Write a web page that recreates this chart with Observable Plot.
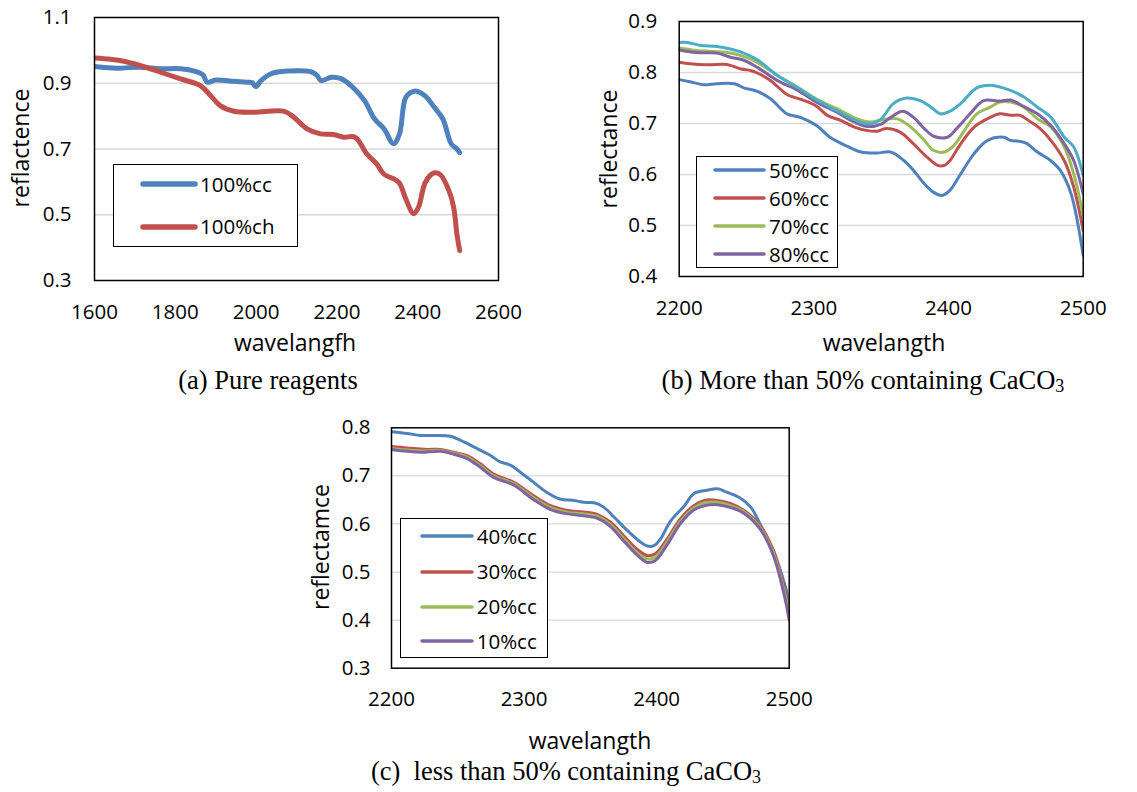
<!DOCTYPE html>
<html><head><meta charset="utf-8">
<script src="https://cdn.jsdelivr.net/npm/d3@7"></script>
<script src="https://cdn.jsdelivr.net/npm/@observablehq/plot@0.6"></script>
<style>
body{margin:0;background:#fff;width:1137px;height:792px;position:relative;overflow:hidden;font-family:"Open Sans",sans-serif;color:#000}
.wrap{position:absolute}
.ylab{position:absolute;transform:translate(-50%,-50%) rotate(-90deg);font-size:23px;white-space:nowrap;line-height:1}
.xlab{position:absolute;transform:translate(-50%,-50%);font-size:23px;white-space:nowrap;line-height:1}
.cap{position:absolute;transform:translate(-50%,-50%);font-family:"Liberation Serif","Times New Roman",serif;font-size:26.5px;white-space:nowrap;line-height:1}
.cap sub{font-size:0.68em;vertical-align:-0.12em}
.legend{position:absolute;border:1.5px solid #000;background:#fff;box-sizing:border-box}
.lrow{position:absolute;display:flex;align-items:center;font-size:20.5px;white-space:nowrap;line-height:1}
</style>
</head><body>
<script>
// ---------- Panel (a) Pure reagents ----------
const aNames = ["100%cc", "100%ch"];
const aColors = ["#4F81BD", "#C0504D"];
const aXTicks = [1600, 1800, 2000, 2200, 2400, 2600];
const aYTicks = [0.3, 0.5, 0.7, 0.9, 1.1];
const a_cc_wl = [1600,1656,1712,1763,1813,1850,1868,1879,1900,1945,1978,1990,1999,2012,2037,2078,2136,2150,2161,2186,2210,2235,2268,2293,2317,2340,2355,2371,2392,2417,2441,2462,2483,2497,2504];
const a_cc_r  = [0.951,0.946,0.949,0.944,0.944,0.936,0.926,0.903,0.910,0.906,0.903,0.902,0.890,0.908,0.929,0.937,0.935,0.925,0.908,0.918,0.914,0.893,0.848,0.792,0.761,0.716,0.746,0.858,0.876,0.863,0.827,0.792,0.716,0.700,0.689];
const a_ch_wl = [1600,1640,1673,1713,1763,1813,1862,1887,1911,1945,1994,2068,2093,2126,2159,2192,2217,2245,2274,2299,2316,2353,2369,2390,2402,2419,2440,2456,2477,2489,2497,2504];
const a_ch_r  = [0.977,0.973,0.967,0.954,0.934,0.913,0.893,0.863,0.832,0.815,0.812,0.815,0.797,0.761,0.746,0.744,0.736,0.736,0.685,0.654,0.624,0.599,0.553,0.503,0.523,0.599,0.627,0.622,0.574,0.523,0.442,0.391];

// ---------- Panel (b) More than 50% CaCO3 ----------
const bNames = ["50%cc", "60%cc", "70%cc", "80%cc", "90%cc"];
const bColors = ["#4F81BD", "#C0504D", "#9BBB59", "#8064A2", "#4BACC6"];
const bLegendNames = ["50%cc", "60%cc", "70%cc", "80%cc"];
const bXTicks = [2200, 2300, 2400, 2500];
const bYTicks = [0.4, 0.5, 0.6, 0.7, 0.8, 0.9];
const b50_wl = [2200,2208,2218,2228,2241,2248,2258,2268,2280,2290,2302,2312,2325,2335,2347,2357,2367,2374,2382,2389,2395,2401,2409,2419,2429,2441,2446,2453,2458,2466,2476,2483,2491,2500];
const b50_r  = [0.786,0.782,0.776,0.778,0.778,0.770,0.763,0.748,0.719,0.712,0.696,0.673,0.655,0.644,0.642,0.644,0.627,0.608,0.582,0.565,0.559,0.569,0.601,0.641,0.667,0.673,0.667,0.665,0.661,0.644,0.627,0.608,0.562,0.441];
const b60_wl = [2200,2208,2221,2233,2238,2246,2253,2258,2268,2280,2293,2302,2310,2320,2330,2340,2347,2354,2364,2374,2384,2392,2397,2401,2409,2419,2431,2438,2446,2453,2461,2468,2476,2486,2493,2500];
const b60_r  = [0.820,0.817,0.815,0.816,0.814,0.807,0.804,0.799,0.784,0.757,0.745,0.734,0.716,0.706,0.693,0.686,0.685,0.690,0.683,0.660,0.634,0.618,0.618,0.627,0.660,0.693,0.712,0.719,0.716,0.716,0.703,0.690,0.667,0.627,0.575,0.490];
const b70_wl = [2200,2213,2233,2246,2258,2273,2288,2302,2317,2332,2342,2352,2362,2372,2382,2389,2397,2404,2411,2421,2431,2438,2446,2456,2466,2476,2486,2493,2500];
const b70_r  = [0.848,0.843,0.840,0.833,0.820,0.794,0.771,0.748,0.729,0.709,0.703,0.708,0.709,0.693,0.667,0.647,0.644,0.657,0.683,0.719,0.732,0.742,0.742,0.732,0.709,0.693,0.654,0.601,0.520];
const b80_wl = [2200,2213,2228,2238,2248,2258,2273,2288,2302,2317,2330,2340,2350,2357,2366,2374,2382,2389,2399,2406,2416,2426,2438,2446,2456,2466,2476,2486,2493,2500];
const b80_r  = [0.844,0.839,0.838,0.830,0.824,0.810,0.784,0.765,0.742,0.722,0.703,0.694,0.699,0.712,0.724,0.712,0.690,0.675,0.673,0.690,0.719,0.745,0.744,0.746,0.733,0.719,0.696,0.660,0.627,0.562];
const b90_wl = [2200,2206,2216,2228,2238,2248,2258,2273,2288,2302,2317,2332,2342,2350,2359,2369,2379,2387,2394,2401,2409,2421,2431,2436,2446,2456,2466,2476,2486,2493,2500];
const b90_r  = [0.859,0.859,0.853,0.851,0.846,0.838,0.825,0.794,0.770,0.746,0.725,0.705,0.699,0.709,0.739,0.750,0.745,0.732,0.719,0.724,0.739,0.770,0.775,0.773,0.765,0.752,0.732,0.712,0.673,0.654,0.598];

// ---------- Panel (c) less than 50% CaCO3 ----------
const cNames = ["40%cc", "30%cc", "20%cc", "10%cc"];
const cColors = ["#4F81BD", "#C0504D", "#9BBB59", "#8064A2"];
const cXTicks = [2200, 2300, 2400, 2500];
const cYTicks = [0.3, 0.4, 0.5, 0.6, 0.7, 0.8];
const c40_wl = [2200,2212,2222,2232,2245,2255,2265,2275,2282,2290,2297,2307,2317,2327,2338,2345,2353,2360,2368,2378,2388,2393,2398,2403,2410,2421,2428,2438,2446,2453,2463,2471,2478,2488,2495,2500];
const c40_r  = [0.792,0.788,0.784,0.784,0.782,0.770,0.756,0.742,0.729,0.722,0.708,0.687,0.666,0.652,0.649,0.645,0.644,0.635,0.614,0.586,0.562,0.554,0.555,0.569,0.604,0.638,0.663,0.670,0.673,0.666,0.654,0.635,0.600,0.545,0.489,0.441];
const c30_wl = [2200,2212,2227,2237,2247,2257,2267,2277,2292,2307,2320,2333,2345,2355,2365,2375,2385,2393,2399,2408,2418,2428,2436,2446,2456,2466,2478,2488,2496,2500];
const c30_r  = [0.761,0.758,0.755,0.755,0.749,0.742,0.725,0.704,0.687,0.659,0.638,0.628,0.625,0.620,0.604,0.576,0.548,0.534,0.538,0.569,0.611,0.638,0.649,0.649,0.642,0.628,0.597,0.545,0.469,0.420];
const c20_wl = [2200,2212,2227,2237,2247,2257,2267,2277,2292,2307,2320,2333,2345,2355,2365,2375,2385,2393,2399,2408,2418,2428,2436,2446,2456,2466,2478,2488,2496,2500];
const c20_r  = [0.757,0.754,0.752,0.753,0.747,0.739,0.721,0.700,0.684,0.655,0.634,0.624,0.621,0.616,0.599,0.570,0.541,0.527,0.531,0.563,0.606,0.633,0.644,0.645,0.638,0.625,0.593,0.540,0.462,0.415];
const c10_wl = [2200,2212,2222,2237,2247,2257,2267,2277,2292,2307,2320,2333,2345,2355,2365,2375,2385,2393,2399,2408,2418,2428,2436,2446,2456,2466,2478,2488,2496,2500];
const c10_r  = [0.755,0.751,0.749,0.751,0.745,0.736,0.718,0.697,0.681,0.651,0.630,0.621,0.617,0.612,0.595,0.565,0.536,0.520,0.524,0.557,0.601,0.629,0.638,0.640,0.634,0.622,0.590,0.535,0.455,0.400];

function rows(name, wl, r) { return wl.map((w, i) => ({wl: w, r: r[i], name})); }

function panel(cfg) {
  const data = cfg.series.flatMap(s => rows(s[0], s[1], s[2]));
  const grid = cfg.yTicks.slice(1, -1);
  const svg = Plot.plot({
    width: cfg.width, height: cfg.height,
    marginLeft: cfg.m[0], marginRight: cfg.m[1], marginTop: cfg.m[2], marginBottom: cfg.m[3],
    style: {fontFamily: "'Open Sans', sans-serif", fontSize: "20.5px", color: "#000", background: "transparent", overflow: "visible"},
    x: {domain: cfg.xDomain, ticks: cfg.xTicks, tickSize: 0, tickPadding: cfg.xPad, label: null, tickFormat: d => String(d)},
    y: {domain: cfg.yDomain, ticks: cfg.yTicks, tickSize: 0, tickPadding: cfg.yPad, label: null, tickFormat: d => d.toFixed(1)},
    color: {domain: cfg.names, range: cfg.colors},
    marks: [
      Plot.ruleY(grid, {stroke: "#d9d9d9", strokeWidth: 1.3}),
      Plot.line(data, {x: "wl", y: "r", z: "name", stroke: "name", strokeWidth: cfg.sw, curve: "catmull-rom", clip: true}),
      Plot.frame({stroke: "#000", strokeWidth: 1.5})
    ]
  });
  const wrap = document.createElement("div");
  wrap.className = "wrap";
  wrap.style.left = cfg.left + "px";
  wrap.style.top = cfg.top + "px";
  wrap.appendChild(svg);
  document.body.appendChild(wrap);
}

function text(cls, html, x, y) {
  const d = document.createElement("div");
  d.className = cls; d.innerHTML = html;
  d.style.left = x + "px"; d.style.top = y + "px";
  document.body.appendChild(d);
}

function legend(box, names, colors, rowYs, lineX, textX, sw) {
  const lg = document.createElement("div");
  lg.className = "legend";
  lg.style.left = box[0] + "px"; lg.style.top = box[1] + "px";
  lg.style.width = (box[2] - box[0]) + "px"; lg.style.height = (box[3] - box[1]) + "px";
  document.body.appendChild(lg);
  names.forEach((n, i) => {
    const r = document.createElement("div");
    r.className = "lrow";
    const len = lineX[1] - lineX[0];
    r.style.left = lineX[0] + "px";
    r.style.top = (rowYs[i] - 15) + "px";
    r.style.height = "30px";
    r.innerHTML = `<svg width="${len}" height="30" style="overflow:visible"><line x1="0" x2="${len}" y1="15" y2="15" stroke="${colors[i]}" stroke-width="${sw}" stroke-linecap="round"/></svg><span style="margin-left:${textX - lineX[1]}px">${n}</span>`;
    document.body.appendChild(r);
  });
}

// Panel (a)
panel({left: 0, top: 0, width: 540, height: 360, m: [94, 42, 17, 80],
  xDomain: [1600, 2600], xTicks: aXTicks, yDomain: [0.3, 1.1], yTicks: aYTicks,
  xPad: 24, yPad: 23, sw: 5, names: aNames, colors: aColors,
  series: [[aNames[0], a_cc_wl, a_cc_r], [aNames[1], a_ch_wl, a_ch_r]]});
legend([112.7, 164.3, 297.7, 247.3], aNames, aColors, [184.3, 226.7], [143, 195], 200, 5.5);
text("ylab", "reflactence", 20, 148);
text("xlab", "wavelangfh", 295, 342);
text("cap", "(a) Pure reagents", 268, 380);

// Panel (b)
panel({left: 590, top: 0, width: 547, height: 340, m: [88.7, 54.3, 21, 64],
  xDomain: [2200, 2500], xTicks: bXTicks, yDomain: [0.4, 0.9], yTicks: bYTicks,
  xPad: 23.5, yPad: 22, sw: 3, names: bNames, colors: bColors,
  series: [[bNames[0], b50_wl, b50_r], [bNames[1], b60_wl, b60_r], [bNames[2], b70_wl, b70_r], [bNames[3], b80_wl, b80_r], [bNames[4], b90_wl, b90_r]]});
legend([696, 156, 837.7, 267.7], bLegendNames, bColors, [170, 198.3, 226, 254], [715, 764], 769, 3.5);
text("ylab", "reflectance", 608, 149);
text("xlab", "wavelangth", 884, 342);
text("cap", "(b) More than 50% containing CaCO<sub>3</sub>", 863, 381);

// Panel (c)
panel({left: 300, top: 410, width: 540, height: 310, m: [91, 51.3, 17.3, 52.3],
  xDomain: [2200, 2500], xTicks: cXTicks, yDomain: [0.3, 0.8], yTicks: cYTicks,
  xPad: 23.3, yPad: 21, sw: 3, names: cNames, colors: cColors,
  series: [[cNames[0], c40_wl, c40_r], [cNames[1], c30_wl, c30_r], [cNames[2], c20_wl, c20_r], [cNames[3], c10_wl, c10_r]]});
legend([400, 517.7, 548.3, 658.3], cNames, cColors, [536, 571.7, 606.7, 641], [421.7, 471.7], 476.7, 3.5);
text("ylab", "reflectamce", 320, 547);
text("xlab", "wavelangth", 590, 740);
text("cap", "(c)&nbsp; less than 50% containing CaCO<sub>3</sub>", 566, 772);
</script>
</body></html>
